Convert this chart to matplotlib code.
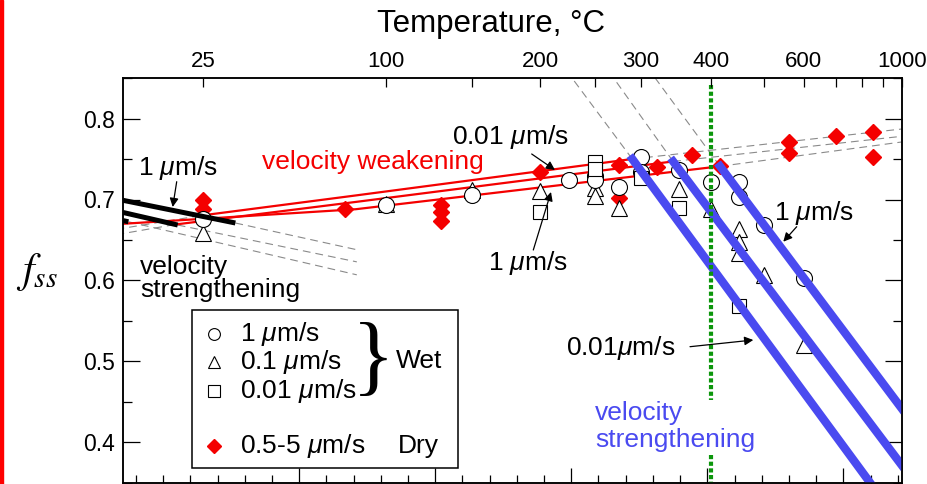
import numpy as np
import matplotlib
matplotlib.use("Agg")
import matplotlib.pyplot as plt
from matplotlib.patches import Rectangle, FancyArrowPatch
from matplotlib.lines import Line2D

plt.rcParams['font.family'] = ['Liberation Sans', 'DejaVu Sans']
plt.rcParams['mathtext.fontset'] = 'custom'
plt.rcParams['mathtext.rm'] = 'Liberation Sans'
plt.rcParams['mathtext.it'] = 'Liberation Sans:italic'

# ---- data (temperature in deg C, steady-state friction) ----
# wet, 1 um/s
t_wet1 = [25, 100, 150, 225, 250, 250, 275, 300, 300, 350, 400, 450, 450, 500, 600]
f_wet1 = [0.676, 0.693, 0.706, 0.724, 0.729, 0.724, 0.716, 0.753, 0.734, 0.737, 0.721, 0.721, 0.703, 0.668, 0.603]
# wet, 0.1 um/s
t_wet01 = [25, 100, 150, 200, 250, 250, 275, 350, 400, 450, 450, 450, 500, 600]
f_wet01 = [0.659, 0.695, 0.712, 0.710, 0.714, 0.704, 0.689, 0.713, 0.688, 0.664, 0.648, 0.634, 0.607, 0.520]
# wet, 0.01 um/s
t_wet001 = [200, 250, 250, 300, 350, 450]
f_wet001 = [0.685, 0.746, 0.738, 0.727, 0.689, 0.568]
# dry, 0.5-5 um/s
t_dry = [25, 25, 80, 130, 130, 130, 200, 275, 275, 320, 370, 415, 560, 560, 700, 850, 850]
f_dry = [0.699, 0.688, 0.688, 0.693, 0.684, 0.673, 0.734, 0.743, 0.702, 0.740, 0.755, 0.741, 0.771, 0.757, 0.779, 0.783, 0.752]

# model curves: velocity weakening (red), strengthening (black, blue)
red_t = [[24, 85, 290], [16, 85, 342], [1, 85, 415]]
red_f = [[0.680, 0.705, 0.750], [0.669, 0.697, 0.747], [0.670, 0.688, 0.741]]
black_t = [[1, 36], [1, 17], [1, 2.5]]
black_f = [[0.699, 0.671], [0.684, 0.6685], [0.674, 0.6725]]
blue_t = [[290, 837], [342, 1000], [415, 1000]]
blue_f = [[0.750, 0.350], [0.747, 0.372], [0.741, 0.442]]
# dashed extrapolations
dash_t = [[36, 85.5], [17, 85.5], [2.5, 85.5],
          [24, 1], [16, 1],
          [290, 227.5], [342, 269], [415, 318],
          [290, 1000], [342, 1000], [415, 1000]]
dash_f = [[0.671, 0.638], [0.6685, 0.623], [0.6725, 0.607],
          [0.680, 0.6645], [0.669, 0.658],
          [0.750, 0.850], [0.747, 0.850], [0.741, 0.850],
          [0.750, 0.787], [0.747, 0.778], [0.741, 0.771]]

t_top_major = [25, 100, 200, 300, 400, 600, 1000]
t_top_minor = [150, 250, 500, 700, 800, 900]
t_green = 400


def inv_t(t):
    return 1000.0 / (np.asarray(t, dtype=float) + 273.15)


W, H = 928, 484


def P(x, y):
    return (x / W, 1 - y / H)


RED = '#f40000'
BLUE = '#4a4af0'
GREEN = '#0c960c'
FS = 19

fig = plt.figure(figsize=(W / 100, H / 100), dpi=100)
ax = fig.add_axes([123 / W, 1 / H, (901.7 - 123) / W, (483 - 78) / H])
ax.set_xlim(inv_t(1), inv_t(1000))
ax.set_ylim(0.35, 0.85)

for tt, ff in zip(dash_t, dash_f):
    ax.plot(inv_t(tt), ff, color='#8a8a8a', lw=0.8, ls=(0, (7, 4.5)), zorder=1)
for tt, ff in zip(red_t, red_f):
    ax.plot(inv_t(tt), ff, color=RED, lw=1.6, zorder=2)

mk = dict(ls='none', mfc='white', mec='black', mew=0.8)
ax.plot(inv_t(t_dry), f_dry, ls='none', marker='D', ms=8.3, mfc=RED, mec=RED, zorder=3)
ax.plot(inv_t(t_wet01), f_wet01, marker='^', ms=11, zorder=3.1, **mk)
ax.plot(inv_t(t_wet1), f_wet1, marker='o', ms=11.5, zorder=3.2, **mk)
ax.plot(inv_t(t_wet001), f_wet001, marker='s', ms=10.5, zorder=3.3, **mk)

for tt, ff in zip(black_t, black_f):
    ax.plot(inv_t(tt), ff, color='black', lw=3.6, solid_capstyle='butt', zorder=4)
for tt, ff in zip(blue_t, blue_f):
    ax.plot(inv_t(tt), ff, color=BLUE, lw=6, solid_capstyle='projecting', zorder=5)

ax.plot(inv_t([t_green, t_green]), [0.8414, 0.4525], color=GREEN, lw=3, ls=(0, (1, 0.6)), zorder=6)
ax.plot(inv_t([t_green, t_green]), [0.3846, 0.34], color=GREEN, lw=3, ls=(0, (1, 0.6)), zorder=6)

# axes, ticks
ax.set_xticks(np.arange(1.0, 3.01, 0.5))
ax.set_xticks(np.arange(0.8, 3.65, 0.1), minor=True)
ax.set_yticks(np.arange(0.4, 0.81, 0.1))
ax.set_yticks(np.arange(0.35, 0.851, 0.05), minor=True)
ax.set_yticklabels(['%.1f' % v for v in np.arange(0.4, 0.81, 0.1)])
ax.tick_params(axis='x', which='both', direction='in', top=False, labelbottom=False)
ax.tick_params(axis='x', which='major', length=10.8, width=0.9)
ax.tick_params(axis='x', which='minor', length=5.8, width=0.9)
ax.tick_params(axis='y', which='both', direction='in', right=True, labelsize=16.5, pad=5.5)
ax.tick_params(axis='y', which='major', length=12.2, width=0.9)
ax.tick_params(axis='y', which='minor', length=6.5, width=0.9)
for s in ax.spines.values():
    s.set_linewidth(1.1)

ax2 = ax.twiny()
ax2.set_xlim(ax.get_xlim())
ax2.set_xticks(inv_t(t_top_major))
ax2.set_xticklabels([str(t) for t in t_top_major])
ax2.set_xticks(inv_t(t_top_minor), minor=True)
ax2.tick_params(axis='x', which='both', direction='in', length=6.2, width=0.9,
                labelsize=16, pad=4.5)
for s in ax2.spines.values():
    s.set_linewidth(1.1)

fig.text(*P(491.5, 24), 'Temperature, \u00b0C', fontsize=22.5, ha='center', va='center')
fig.text(*P(37, 272), r'$f_{ss}$', fontsize=30, math_fontfamily='stix', ha='center', va='center')

# annotations
mu = r'$\mathit{\mu}$'
fig.text(*P(138, 168), '1 ' + mu + 'm/s', fontsize=FS, va='center')
fig.text(*P(262, 162), 'velocity weakening', fontsize=FS, color=RED, va='center')
fig.text(*P(452, 137), '0.01 ' + mu + 'm/s', fontsize=FS, va='center')
fig.text(*P(488, 263), '1 ' + mu + 'm/s', fontsize=FS, va='center')
fig.text(*P(140, 267), 'velocity', fontsize=FS, va='center')
fig.text(*P(140, 290), 'strengthening', fontsize=FS, va='center')
fig.text(*P(595, 413), 'velocity', fontsize=FS, color=BLUE, va='center')
fig.text(*P(595, 440), 'strengthening', fontsize=FS, color=BLUE, va='center')
fig.text(*P(774, 213), '1 ' + mu + 'm/s', fontsize=FS, va='center')
fig.text(*P(566, 348), '0.01' + mu + 'm/s', fontsize=FS, va='center')

arrows = [((176.7, 181.7), (172.7, 207)), ((531.7, 154), (555, 170)),
          ((533.3, 250), (551, 192)), ((796.7, 226.7), (783.3, 241.7)),
          ((690, 346.7), (753.3, 340))]
for a, b in arrows:
    fig.add_artist(FancyArrowPatch(P(*a), P(*b), transform=fig.transFigure, arrowstyle='-|>',
                                   mutation_scale=13, lw=0.9, color='black', shrinkA=0, shrinkB=0))

# legend
fig.add_artist(Rectangle(P(191.7, 467.7), (458.3 - 191.7) / W, (467.7 - 310) / H,
                         transform=fig.transFigure, fc='white', ec='black', lw=1.1))
leg = [('o', 8.5, 334, '1 ' + mu + 'm/s'), ('^', 8.5, 362, '0.1 ' + mu + 'm/s'),
       ('s', 8, 391, '0.01 ' + mu + 'm/s')]
for m, s, y, lab in leg:
    fig.add_artist(Line2D([214.3 / W], [1 - y / H], transform=fig.transFigure, marker=m, ms=s,
                          mfc='white', mec='black', mew=0.8, ls='none'))
    fig.text(*P(240, y), lab, fontsize=FS, va='center')
fig.add_artist(Line2D([214.3 / W], [1 - 446 / H], transform=fig.transFigure, marker='D', ms=7,
                      mfc=RED, mec=RED, ls='none'))
fig.text(*P(240, 446), '0.5-5 ' + mu + 'm/s', fontsize=FS, va='center')
fig.text(*P(398, 446), 'Dry', fontsize=FS, va='center')
fig.text(*P(373, 362), '}', fontsize=64, family='Liberation Serif', ha='center', va='center')
fig.text(*P(396, 361), 'Wet', fontsize=FS, va='center')

fig.add_artist(Rectangle((0, 0), 3 / W, 1, transform=fig.transFigure, color='red'))

fig.savefig('out.png', dpi=100)
